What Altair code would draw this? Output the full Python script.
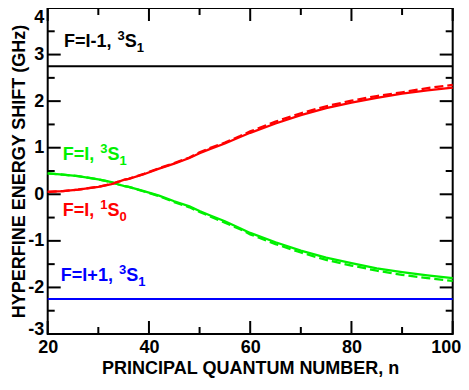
import altair as alt
import pandas as pd

# ---------------- data ----------------
n_vals = [20, 23, 26, 30, 32.6, 34, 35, 36, 39, 42, 45, 48, 50, 52, 55, 58,
          60, 65, 70, 75, 80, 85, 90, 95, 100]
red_solid = [0.05, 0.07, 0.10, 0.16, 0.22, 0.27, 0.31, 0.33, 0.43, 0.55, 0.66,
             0.78, 0.88, 0.97, 1.09, 1.23, 1.32, 1.52, 1.70, 1.85, 1.97, 2.07,
             2.16, 2.23, 2.29]
red_dashed = [0.05, 0.07, 0.10, 0.16, 0.22, 0.27, 0.31, 0.33, 0.44, 0.56, 0.67,
              0.79, 0.90, 0.99, 1.11, 1.25, 1.35, 1.56, 1.74, 1.89, 2.01, 2.11,
              2.19, 2.28, 2.35]
green_solid = [0.45, 0.42, 0.39, 0.32, 0.26, 0.21, 0.18, 0.16, 0.07, -0.03,
               -0.15, -0.26, -0.36, -0.45, -0.58, -0.73, -0.83, -1.03, -1.21,
               -1.36, -1.48, -1.59, -1.67, -1.74, -1.80]
green_dashed = [0.45, 0.42, 0.39, 0.32, 0.26, 0.21, 0.18, 0.16, 0.06, -0.04,
                -0.17, -0.28, -0.38, -0.47, -0.61, -0.75, -0.86, -1.07, -1.25,
                -1.41, -1.53, -1.64, -1.73, -1.80, -1.86]
black_level = [2.75]
blue_level = [-2.25]

x_labels = [20, 40, 60, 80, 100]
x_minor = [30, 50, 70, 90]
y_labels = [-3, -2, -1, 0, 1, 2, 3, 4]
y_minor = [-2.5, -1.5, -0.5, 0.5, 1.5, 2.5, 3.5]

label_main = ["F=I-1, ", "F=I, ", "F=I, ", "F=I+1, "]
label_sup = ["3", "3", "1", "3"]
label_sub = ["1", "1", "0", "1"]
label_n = [23.2, 22.95, 22.95, 22.6]
label_v = [3.16, 0.73, -0.47, -1.87]

RED = "#ff0000"
GREEN = "#00f000"
BLUE = "#0000ff"
label_color = ["black", GREEN, RED, BLUE]

# ---------------- layout ----------------
W, H = 405, 326
FONT = "Liberation Sans"
MAIN_FS = 18
SUP_FS = 13
AX_FS = 18
MAJ, MIN = 13, 7

ARIAL_BOLD = {"F": .611, "=": .584, "I": .278, "-": .333, "+": .584,
              "1": .556, "0": .556, "3": .556, ",": .278, " ": .278, "S": .667}


def text_width(s, fs):
    return sum(ARIAL_BOLD.get(c, .6) for c in s) * fs


xs = alt.Scale(domain=[20, 100], nice=False, zero=False)
ys = alt.Scale(domain=[-3, 4], nice=False, zero=False)

x_axis = alt.Axis(values=x_labels, ticks=False, domain=False, grid=False,
                  labelPadding=4, labelExpr="'' + datum.value",
                  labelAlign={"condition": {"test": "datum.value == 100", "value": "right"},
                              "value": "center"},
                  labelOffset={"condition": {"test": "datum.value == 100", "value": 8},
                               "value": 0},
                  title="PRINCIPAL QUANTUM NUMBER, n",
                  titleY=39, titleBaseline="alphabetic")
y_axis = alt.Axis(values=y_labels, ticks=False, domain=False, grid=False,
                  labelPadding=4, labelExpr="'' + datum.value",
                  labelBaseline={"condition": [
                      {"test": "datum.value == 4", "value": "top"},
                      {"test": "datum.value == -3", "value": "alphabetic"}],
                      "value": "middle"},
                  title="HYPERFINE ENERGY SHIFT (GHz)",
                  titleX=-23.5, titleBaseline="alphabetic")


def X():
    return alt.X("n:Q", scale=xs, axis=x_axis)


def Y():
    return alt.Y("v:Q", scale=ys, axis=y_axis)


curves = pd.DataFrame({"n": n_vals, "rs": red_solid, "rd": red_dashed,
                       "gs": green_solid, "gd": green_dashed})

layers = []

# horizontal levels
layers.append(alt.Chart(pd.DataFrame({"v": black_level})).mark_rule(
    color="black", strokeWidth=2).encode(y=Y()))
layers.append(alt.Chart(pd.DataFrame({"v": blue_level})).mark_rule(
    color=BLUE, strokeWidth=2).encode(y=Y()))

# curves
for col, color, dash in [("gd", GREEN, [9, 4]), ("rd", RED, [9, 4]),
                         ("gs", GREEN, None), ("rs", RED, None)]:
    kw = dict(color=color, strokeWidth=2.3)
    if dash:
        kw["strokeDash"] = dash
    df = curves[["n", col]].rename(columns={col: "v"})
    layers.append(alt.Chart(df).mark_line(**kw).encode(x=X(), y=Y()))

# inward ticks
ymaj = pd.DataFrame({"v": y_labels})
ymin = pd.DataFrame({"v": y_minor})
xmaj = pd.DataFrame({"n": x_labels})
xmin = pd.DataFrame({"n": x_minor})
for df, ln in [(ymaj, MAJ), (ymin, MIN)]:
    layers.append(alt.Chart(df).mark_rule(color="black", strokeWidth=2).encode(
        y=Y(), x=alt.value(0), x2=alt.value(ln)))
    layers.append(alt.Chart(df).mark_rule(color="black", strokeWidth=2).encode(
        y=Y(), x=alt.value(W), x2=alt.value(W - ln)))
for df, ln in [(xmaj, MAJ), (xmin, MIN)]:
    layers.append(alt.Chart(df).mark_rule(color="black", strokeWidth=2).encode(
        x=X(), y=alt.value(H), y2=alt.value(H - ln)))
    layers.append(alt.Chart(df).mark_rule(color="black", strokeWidth=2).encode(
        x=X(), y=alt.value(0), y2=alt.value(ln)))

# labels with super/subscripts
for i in range(len(label_main)):
    base = pd.DataFrame({"n": [label_n[i]], "v": [label_v[i]]})
    w_main = text_width(label_main[i], MAIN_FS) + 1
    w_sup = text_width(label_sup[i], SUP_FS)
    w_S = text_width("S", MAIN_FS)
    pieces = [
        (label_main[i], MAIN_FS, 0, 0),
        (label_sup[i], SUP_FS, w_main, -7),
        ("S", MAIN_FS, w_main + w_sup, 0),
        (label_sub[i], SUP_FS, w_main + w_sup + w_S, 5),
    ]
    for txt, fs, dx, dy in pieces:
        layers.append(alt.Chart(base).mark_text(
            text=txt, font=FONT, fontWeight="bold", fontSize=fs,
            color=label_color[i], align="left", baseline="alphabetic",
            dx=dx, dy=dy).encode(x=X(), y=Y()))

chart = alt.layer(*layers).properties(
    width=W, height=H,
    autosize=alt.AutoSizeParams(type="none"),
    padding={"left": 39.7, "top": 0, "right": 8.3, "bottom": 44},
).configure_view(stroke="black", strokeWidth=2).configure_axis(
    labelFont=FONT, labelFontSize=AX_FS, labelFontWeight="bold", labelColor="black",
    titleFont=FONT, titleFontSize=AX_FS, titleFontWeight="bold", titleColor="black",
    labelOverlap=False,
)

chart.save("out.html", embed_options={"renderer": "svg", "actions": False})
